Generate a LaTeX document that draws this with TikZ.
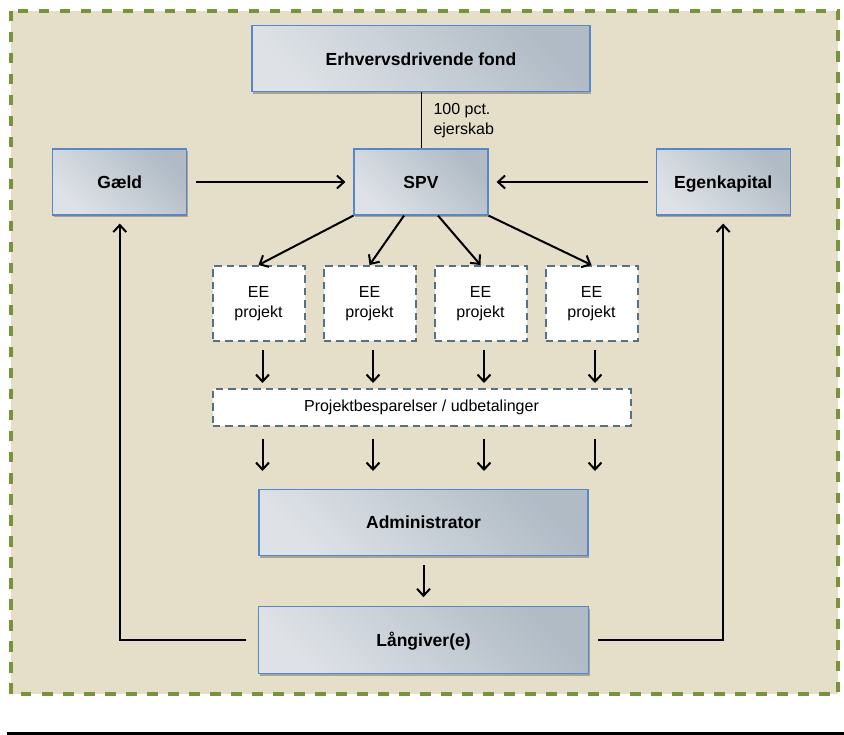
\documentclass[tikz,border=0pt]{standalone}
\usepackage{fontspec}
\setmainfont{Liberation Sans}
\usetikzlibrary{arrows.meta, positioning, shadows}

\definecolor{sandbg}{RGB}{229,223,201}
\definecolor{olivedash}{RGB}{119,147,60}
\definecolor{slatedash}{RGB}{86,113,130}
\definecolor{boxedge}{RGB}{86,135,200}
\definecolor{boxlight}{RGB}{222,226,231}
\definecolor{boxdark}{RGB}{176,187,197}

\newcommand{\blockfont}{\fontsize{17.5}{21}\selectfont\bfseries}
\newcommand{\notefont}{\fontsize{16}{20}\selectfont}

\begin{document}
\begin{tikzpicture}[
  x=1pt, y=-1pt,
  block/.style={draw=boxedge, line width=1.2pt, top color=boxdark, bottom color=boxlight, shading angle=-45,
    drop shadow={shadow xshift=1pt, shadow yshift=-2.5pt, opacity=0.4, fill=black!70},
    minimum height=66pt, minimum width=134pt, inner sep=0pt, text height=12.5pt, text depth=0pt,
    font=\blockfont, align=center},
  ee/.style={draw=slatedash, fill=white, line width=2pt, dash pattern=on 7.5pt off 5pt,
    minimum height=75pt, minimum width=92pt, inner sep=0pt, font=\notefont, align=center},
  line/.style={-{Straight Barb[length=7pt,width=13pt]}, line width=2pt},
  node distance=17pt
]
\useasboundingbox (0,0) rectangle (844,735);
\fill[sandbg] (11,11) rectangle (838,694);
\draw[olivedash, line width=3.5pt, dash pattern=on 10.5pt off 10.5pt] (11,11) rectangle (838,694);
\draw[line width=3pt] (7,733) -- (844,733);

\node[block] (spv) at (421,182) {SPV};
\node[block, minimum width=338pt, above=56pt of spv] (fond) {Erhvervsdrivende fond};
\node[block, left=166pt of spv] (gaeld) {Gæld};
\node[block, right=167pt of spv] (egen) {Egenkapital};

\node[ee] (ee1) at (258.5,303.5) {EE\\projekt};
\node[ee, right=of ee1] (ee2) {EE\\projekt};
\node[ee, right=of ee2] (ee3) {EE\\projekt};
\node[ee, right=of ee3] (ee4) {EE\\projekt};

\node[ee, minimum width=418pt, minimum height=37pt, below=46pt of ee1.south west, anchor=north west] (proj) {Projektbesparelser / udbetalinger};

\node[block, minimum width=329pt, below=62pt of proj, xshift=2pt] (admin) {Administrator};
\node[block, minimum width=330pt, minimum height=67pt, below=50pt of admin] (lang) {Långiver(e)};

\draw[line width=1pt] (fond.south -| spv) -- node[right=12pt, inner sep=0pt, align=left, font=\notefont] {100 pct.\\ejerskab} (spv.north);
\draw[line, shorten <=9pt, shorten >=8pt] (gaeld) -- (spv);
\draw[line, shorten <=8pt, shorten >=8pt] (egen) -- (spv);

\draw[line] (spv.south west) -- (ee1.north);
\draw[line] ([xshift=-17pt]spv.south) -- (ee2.north);
\draw[line] ([xshift=17pt]spv.south) -- (ee3.north);
\draw[line] (spv.south east) -- (ee4.north);

\coordinate (c1) at ([xshift=4pt]ee1.south);
\coordinate (c2) at ([xshift=3.5pt]ee2.south);
\coordinate (c3) at ([xshift=3.5pt]ee3.south);
\coordinate (c4) at ([xshift=3.5pt]ee4.south);

\draw[line, shorten <=8pt, shorten >=5pt] (c1) -- (c1 |- proj.north);
\draw[line, shorten <=8pt, shorten >=5pt] (c2) -- (c2 |- proj.north);
\draw[line, shorten <=8pt, shorten >=5pt] (c3) -- (c3 |- proj.north);
\draw[line, shorten <=8pt, shorten >=5pt] (c4) -- (c4 |- proj.north);

\draw[line, shorten <=12pt, shorten >=18pt] (c1 |- proj.south) -- (c1 |- admin.north);
\draw[line, shorten <=12pt, shorten >=18pt] (c2 |- proj.south) -- (c2 |- admin.north);
\draw[line, shorten <=12pt, shorten >=18pt] (c3 |- proj.south) -- (c3 |- admin.north);
\draw[line, shorten <=12pt, shorten >=18pt] (c4 |- proj.south) -- (c4 |- admin.north);

\draw[line, shorten <=9pt, shorten >=9pt] (admin) -- (lang);

\draw[line, shorten <=12pt, shorten >=8pt] (lang.west) -| (gaeld.south);
\draw[line, shorten <=9pt, shorten >=8pt] (lang.east) -| (egen.south);
\end{tikzpicture}
\end{document}
